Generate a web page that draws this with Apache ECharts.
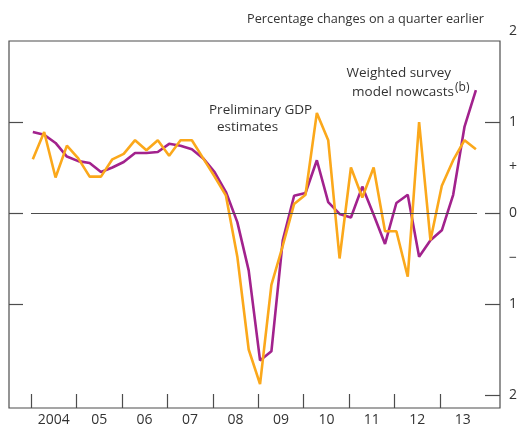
<!DOCTYPE html>
<html>
<head>
<meta charset="utf-8">
<script src="https://cdn.jsdelivr.net/npm/echarts@6/dist/echarts.min.js"></script>
<style>
html, body { margin: 0; padding: 0; background: #fff; }
#chart { width: 520px; height: 430px; }
</style>
</head>
<body>
<div id="chart"></div>
<script>
// quarterly data, 2004 Q1 - 2013 Q4
const quarters = [
  '2004 Q1', '2004 Q2', '2004 Q3', '2004 Q4', '2005 Q1', '2005 Q2', '2005 Q3', '2005 Q4',
  '2006 Q1', '2006 Q2', '2006 Q3', '2006 Q4', '2007 Q1', '2007 Q2', '2007 Q3', '2007 Q4',
  '2008 Q1', '2008 Q2', '2008 Q3', '2008 Q4', '2009 Q1', '2009 Q2', '2009 Q3', '2009 Q4',
  '2010 Q1', '2010 Q2', '2010 Q3', '2010 Q4', '2011 Q1', '2011 Q2', '2011 Q3', '2011 Q4',
  '2012 Q1', '2012 Q2', '2012 Q3', '2012 Q4', '2013 Q1', '2013 Q2', '2013 Q3', '2013 Q4'
];
const gdpPrelim = [
  0.59, 0.89, 0.39, 0.74, 0.60, 0.40, 0.40, 0.59, 0.65, 0.80,
  0.69, 0.80, 0.63, 0.80, 0.80, 0.60, 0.40, 0.19, -0.48, -1.50,
  -1.88, -0.79, -0.36, 0.10, 0.20, 1.10, 0.80, -0.50, 0.50, 0.17,
  0.50, -0.20, -0.20, -0.70, 1.00, -0.30, 0.30, 0.58, 0.80, 0.70
];
const surveyNowcast = [
  0.89, 0.86, 0.77, 0.62, 0.57, 0.55, 0.45, 0.50, 0.56, 0.66,
  0.66, 0.67, 0.76, 0.74, 0.70, 0.60, 0.45, 0.23, -0.10, -0.63,
  -1.62, -1.52, -0.30, 0.19, 0.22, 0.58, 0.12, -0.01, -0.05, 0.29,
  -0.02, -0.34, 0.11, 0.20, -0.48, -0.30, -0.19, 0.20, 0.95, 1.35
];
const yearTicks = [2004, 2005, 2006, 2007, 2008, 2009, 2010, 2011, 2012, 2013];
const yearLabels = ['2004', '05', '06', '07', '08', '09', '10', '11', '12', '13'];
const yTickValues = [1, 0, -1, -2];
const yLabelValues = [2, 1, 0.5, 0, -0.5, -1, -2];
const yLabelText = ['2', '1', '+', '0', '\u2212', '1', '2'];

const FONT = 'Open Sans';
const AXIS = '#4d4d4d';
const xMin = 2003.516, xMax = 2014.32;

function quarterPos(s) {
  const parts = s.split(' Q');
  return +parts[0] + (parts[1] - 1) / 4 + 0.04;
}

const chart = echarts.init(document.getElementById('chart'));
chart.setOption({
  animation: false,
  textStyle: { fontFamily: FONT },
  title: {
    text: 'Percentage changes on a quarter earlier',
    right: 31, top: 8,
    textStyle: { fontSize: 12.7, fontWeight: 'normal', color: '#333', fontFamily: FONT }
  },
  grid: [
    { left: 9, right: 20, top: 31, bottom: 35 },
    { left: 9, right: 20, top: 41, bottom: 22, show: true, borderColor: AXIS, borderWidth: 1.2 }
  ],
  xAxis: [
    { gridIndex: 0, type: 'value', min: xMin, max: xMax, show: false },
    {
      gridIndex: 1, type: 'value', min: xMin, max: xMax,
      axisLine: { show: false },
      splitLine: { show: false },
      axisTick: { show: true, inside: true, length: 14, customValues: yearTicks, lineStyle: { color: AXIS, width: 1.2 } },
      axisLabel: {
        customValues: yearTicks.map(y => y + 0.5),
        formatter: v => yearLabels[Math.round(v - 0.5) - 2004],
        margin: 5, fontSize: 14, color: '#333', fontFamily: FONT
      }
    }
  ],
  yAxis: [
    {
      gridIndex: 0, type: 'value', position: 'right', min: -2, max: 2,
      axisLine: { show: false },
      splitLine: { show: false },
      axisTick: { show: true, inside: true, length: 15, customValues: yTickValues, lineStyle: { color: AXIS, width: 1.2 } },
      axisLabel: {
        customValues: yLabelValues,
        formatter: v => yLabelText[yLabelValues.indexOf(v)],
        margin: 9, fontSize: 14, color: '#333', fontFamily: FONT
      }
    },
    {
      gridIndex: 0, type: 'value', position: 'left', min: -2, max: 2,
      axisLine: { show: false },
      splitLine: { show: false },
      axisTick: { show: true, inside: true, length: 14, customValues: [1, 0, -1], lineStyle: { color: AXIS, width: 1.2 } },
      axisLabel: { show: false }
    },
    { gridIndex: 1, type: 'value', min: 0, max: 1, show: false }
  ],
  graphic: [
    { type: 'text', x: 209, y: 110, style: { text: 'Preliminary GDP', fontSize: 13.5, fill: '#333', fontFamily: FONT, verticalAlign: 'middle' } },
    { type: 'text', x: 217, y: 127, style: { text: 'estimates', fontSize: 13.5, fill: '#333', fontFamily: FONT, verticalAlign: 'middle' } },
    { type: 'text', x: 451, y: 73, style: { text: 'Weighted survey', fontSize: 13.5, fill: '#333', fontFamily: FONT, align: 'right', verticalAlign: 'middle' } },
    { type: 'text', x: 454, y: 92, style: { text: 'model nowcasts', fontSize: 13.5, fill: '#333', fontFamily: FONT, align: 'right', verticalAlign: 'middle' } },
    { type: 'text', x: 455, y: 88, style: { text: '(b)', fontSize: 12, fill: '#333', fontFamily: FONT, verticalAlign: 'middle' } }
  ],
  series: [
    {
      type: 'line', xAxisIndex: 0, yAxisIndex: 0, data: [], z: 1,
      markLine: {
        silent: true, symbol: ['none', 'none'], label: { show: false },
        lineStyle: { color: AXIS, width: 1.2, type: 'solid' },
        data: [[{ coord: [2004, 0] }, { coord: [2013.815, 0] }]]
      }
    },
    {
      name: 'Weighted survey model nowcasts', type: 'line', xAxisIndex: 0, yAxisIndex: 0, z: 3,
      data: quarters.map((q, i) => [quarterPos(q), surveyNowcast[i]]),
      symbol: 'none', lineStyle: { color: '#a2228d', width: 2.6 }
    },
    {
      name: 'Preliminary GDP estimates', type: 'line', xAxisIndex: 0, yAxisIndex: 0, z: 4,
      data: quarters.map((q, i) => [quarterPos(q), gdpPrelim[i]]),
      symbol: 'none', lineStyle: { color: '#fba81b', width: 2.6 }
    }
  ]
});
</script>
</body>
</html>
